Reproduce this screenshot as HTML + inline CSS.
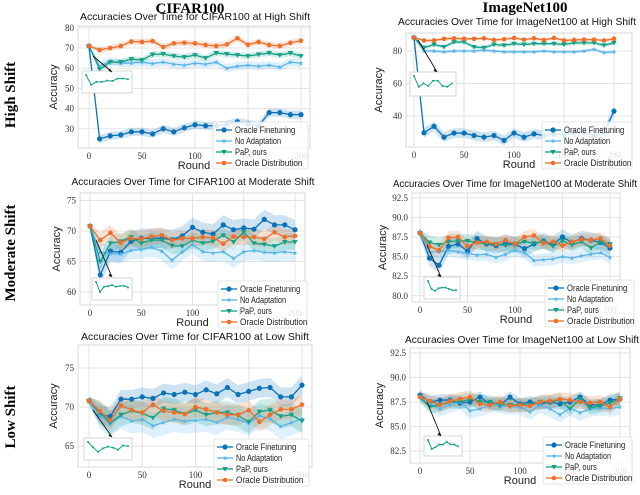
<!DOCTYPE html>
<html><head><meta charset="utf-8"><style>
body{margin:0;background:#fff}
svg text{font-family:"Liberation Sans",sans-serif}
.serif{font-family:"Liberation Serif",serif}
</style></head><body>
<svg id="fig" width="640" height="490" viewBox="0 0 640 490" xmlns="http://www.w3.org/2000/svg">
<text class="serif" x="190" y="13" font-size="15" font-weight="bold" text-anchor="middle">CIFAR100</text>
<text class="serif" x="525" y="12" font-size="15" font-weight="bold" text-anchor="middle">ImageNet100</text>
<text class="serif" transform="translate(15,95) rotate(-90)" font-size="15" font-weight="bold" text-anchor="middle">High Shift</text>
<text class="serif" transform="translate(15,253) rotate(-90)" font-size="15" font-weight="bold" text-anchor="middle">Moderate Shift</text>
<text class="serif" transform="translate(15,417) rotate(-90)" font-size="15" font-weight="bold" text-anchor="middle">Low Shift</text>
</svg>
<script>
const rounds=[0,10,20,30,40,50,60,70,80,90,100,110,120,130,140,150,160,170,180,190,200];
const seriesNames=["Oracle Finetuning","No Adaptation","PaP, ours","Oracle Distribution"];
const xTicks=[0,50,100,150,200];
// CIFAR100 high
const c1Oracle=[71,25,26.5,27,28.5,28.5,27.5,30,28.5,30.5,32,31.5,31.5,32,33.5,32.5,31.5,38,38,37,37];
const c1NoAdapt=[71,61,63.5,62.5,62.5,63,62.3,63,62,61.5,62.5,62,63,60,61,61.5,61,61.5,60.5,63,62.5];
const c1PaP=[71,59.5,63,63,64.5,64,66.8,67,66,65.5,66.5,65,67.5,67,66.5,66,66.8,67.5,66.5,67.5,66];
const c1Dist=[71,69,70,71,73.2,73,73.4,70.5,72.3,72.6,72.3,71.5,71,71.8,74.8,71.6,73,71.5,71,72.6,73.6];
const c1Spread=[2,2,1.5,1.5];
const c1YTicks=[30,40,50,60,70,80];
// ImageNet100 high
const i1Oracle=[88.2,29.7,33.6,27,29.5,29.5,28,27,28,25,29.5,27,29,28,29,28.5,30,30,28,30,43];
const i1NoAdapt=[88.2,80,80,79.5,80,80,80,80.5,80,79.5,79.5,79.5,79.5,80,79.5,79.5,79.5,80,81,79,79.5];
const i1PaP=[88.2,82,84,82.5,85.5,85.5,82.5,82,84,83.5,84.5,84,84.5,84.5,84.5,84,85,85,85,83.5,85];
const i1Dist=[88.2,86.5,86.5,87.5,87.8,87.5,87.5,87.8,86.8,87.2,88,87,87.8,86.8,88,86.5,86.8,87,87,86.5,87.5];
const i1Spread=[3,1,1.2,1];
const i1YTicks=[40,60,80];
// CIFAR100 moderate
const c2Oracle=[70.8,62.8,66.7,66.5,68.3,68.8,68.8,68.8,68.6,69.2,70.6,69.8,69.5,71,70.2,70.5,70.3,71.9,71,71,70.2];
const c2NoAdapt=[70.8,66.5,66.3,66.2,66.8,67,67.3,66.7,65.2,66.6,67.8,66.6,66.4,66.6,65.5,66.6,66.8,66.5,66.4,66.6,66.4];
const c2PaP=[70.8,65,68,68.3,69,68,68.5,68.5,67.6,67.5,68.5,68,68.3,69.3,68.2,69.8,68,67.8,67.5,68.2,68.2];
const c2Dist=[70.8,68.5,69.7,68.1,68.8,68.7,69.1,69.3,68.5,68.8,68.8,69,68.9,67.9,69.1,69,69,68.7,69.8,69,69.2];
const c2Spread=[1.6,1.5,1.3,1.3];
const c2YTicks=[60,65,70,75];
// ImageNet100 moderate
const i2Oracle=[88,84.8,83.9,86.3,86.6,85.7,87.3,86.6,86.4,86.7,86.6,86,86.6,87,86.6,87.5,86.8,87.3,87.1,86.8,86.1];
const i2NoAdapt=[88,85.6,85.6,85.8,85.6,85.4,85.2,85.3,84.9,85.3,85.8,85.5,84.5,84.6,84.7,85,84.8,85.1,85.3,85.5,84.9];
const i2PaP=[88,86.8,86.5,86.9,87,87,86.8,86.6,86.6,86.4,86.6,86.9,86.7,86.9,86.3,87,86.5,86.9,86.1,86.8,86.6];
const i2Dist=[88,86.3,85.8,87.4,87.5,86.3,86.8,86.9,86.6,87.1,86.6,87.5,87.7,86.7,86.9,86.4,86.9,87.2,87.1,87.3,86.4];
const i2Spread=[1,0.8,0.9,0.8];
const i2YTicks=[80,82.5,85,87.5,90,92.5];
// CIFAR100 low
const c3Oracle=[70.8,69,68.8,71,71,71.3,71.1,71.8,71.6,71.9,71.6,72.2,71.7,72.5,71.6,72,72.4,72.5,71.3,71.3,72.8];
const c3NoAdapt=[70.8,68.9,67.8,68.8,68.2,68.4,67.6,68,68.4,68.2,68.3,68.4,68,68.7,68.4,67.9,68.9,68.5,67.5,68,68.5];
const c3PaP=[70.8,69.3,68,69,69.5,69.2,68.6,69.8,69.6,69.1,69.6,69,69.3,69.3,68.9,68.1,69.4,69.6,68.8,69,68.2];
const c3Dist=[70.8,69.5,68.3,70.2,69.6,69.3,70.3,69.5,69.3,69.1,70,69.7,69.3,69,69,69.6,68.1,69,69.7,69.7,70.3];
const c3Spread=[1.2,1.6,1.5,1.3];
const c3YTicks=[65,70,75];
// ImageNet100 low
const i3Oracle=[88.2,87.5,87.7,87.7,87.4,87.5,88,87.3,87.2,88,87.3,87.5,87.3,87.5,87.3,87.5,88,87.2,87.2,87.7,87.8];
const i3NoAdapt=[88,87.3,86.8,87.2,87.5,86.6,86.8,87.2,87.2,87,87,86.5,87.2,86.8,86.2,86.9,86.4,86.8,86.9,86.8,87];
const i3PaP=[88,87,87.2,87.5,87.5,87.8,87.5,87.5,87.3,87.2,87.2,87.2,87.5,87.5,87.7,86.8,87.8,86.9,87.1,87.4,87.9];
const i3Dist=[88,87.6,87.2,87.6,87.8,88,87.3,87.2,87.5,87.1,87.2,87.1,87.5,87.6,87.8,87.7,87.5,87.4,87.5,87,87.8];
const i3Spread=[0.6,0.8,0.7,0.7];
const i3YTicks=[82.5,85,87.5,90,92.5];

const colors=["#0a72b8","#56b4e9","#14a085","#ef6f2a"];
const NS="http://www.w3.org/2000/svg";
const svg=document.getElementById('fig');
function mk(tag,attrs,parent){const e=document.createElementNS(NS,tag);for(const k in attrs)e.setAttribute(k,attrs[k]);(parent||svg).appendChild(e);return e;}

const panels=[
 {id:"cifar-high",title:"Accuracies Over Time for CIFAR100 at High Shift",tw:230,tc:195,f:[78,26,310,148],x0:89,x200:301,yv:70,yp:48,k:2.02,ticks:c1YTicks,dec:0,data:[c1Oracle,c1NoAdapt,c1PaP,c1Dist],sp:c1Spread,ty:20,ax:57,leg:[213,122,95],inset:[82,71,50,22],arrow:[93,56,112,72]},
 {id:"imagenet-high",title:"Accuracies Over Time for ImageNet100 at High Shift",tw:238,tc:517,f:[406,33,632,147],x0:414,x200:614,yv:80,yp:51,k:1.625,ticks:i1YTicks,dec:0,data:[i1Oracle,i1NoAdapt,i1PaP,i1Dist],sp:i1Spread,ty:25,ax:382,leg:[542,122,90],inset:[410,72,46,24],arrow:[418,40,437,72]},
 {id:"cifar-moderate",title:"Accuracies Over Time for CIFAR100 at Moderate Shift",tw:243,tc:193,f:[80,193,305,305],x0:90,x200:295,yv:70,yp:231,k:6.1,ticks:c2YTicks,dec:0,data:[c2Oracle,c2NoAdapt,c2PaP,c2Dist],sp:c2Spread,ty:185,ax:60,leg:[218,281,89],inset:[92,278,40,22],arrow:[96,240,112,277]},
 {id:"imagenet-moderate",title:"Accuracies Over Time for ImageNet100 at Moderate Shift",tw:244,tc:515,f:[412,193,620,302],x0:420,x200:610,yv:87.5,yp:237,k:7.84,ticks:i2YTicks,dec:1,data:[i2Oracle,i2NoAdapt,i2PaP,i2Dist],sp:i2Spread,ty:187,ax:386,leg:[545,280,89],inset:[424,277,36,22],arrow:[427,245,441,277]},
 {id:"cifar-low",title:"Accuracies Over Time for CIFAR100 at Low Shift",tw:228,tc:195,f:[78,345,312,467],x0:89,x200:302,yv:70,yp:407,k:7.8,ticks:c3YTicks,dec:0,data:[c3Oracle,c3NoAdapt,c3PaP,c3Dist],sp:c3Spread,ty:340,ax:57,leg:[214,439,95],inset:[84,438,48,22],arrow:[93,410,112,437]},
 {id:"imagenet-low",title:"Accuracies Over Time for ImageNet100 at Low Shift",tw:234,tc:522,f:[410,348,630,463],x0:420,x200:620,yv:87.5,yp:402,k:9.8,ticks:i3YTicks,dec:1,data:[i3Oracle,i3NoAdapt,i3PaP,i3Dist],sp:i3Spread,ty:343,ax:383,leg:[543,437,89],inset:[424,436,38,20],arrow:[427,402,441,436]}
];

function marker(g,s,x,y,c){
 let e;
 if(s===0){e=mk('circle',{cx:x,cy:y,r:2.6,fill:c},g);}
 else if(s===1){e=mk('path',{d:`M${x},${y-2.4} L${x+0.7},${y-0.7} L${x+2.4},${y-0.7} L${x+1},${y+0.5} L${x+1.5},${y+2.3} L${x},${y+1.2} L${x-1.5},${y+2.3} L${x-1},${y+0.5} L${x-2.4},${y-0.7} L${x-0.7},${y-0.7}Z`,fill:c},g);}
 else if(s===2){e=mk('path',{d:`M${x-2.8},${y-2} L${x+2.8},${y-2} L${x},${y+2.6}Z`,fill:c},g);}
 else {e=mk('circle',{cx:x,cy:y,r:2.3,fill:c},g);}
 
 
}

panels.forEach(p=>{
 const [L,T,R,B]=p.f;
 const X=v=>p.x0+(v/200)*(p.x200-p.x0);
 const Y=v=>p.yp-(v-p.yv)*p.k;
 const g=mk('g',{});
 
 
 const clipId='clip-'+p.id;
 const cp=mk('clipPath',{id:clipId},g);mk('rect',{x:L,y:T,width:R-L,height:B-T},cp);
 const t=mk('text',{x:p.tc,y:p.ty,'font-size':'10.5','text-anchor':'middle',fill:'#111',textLength:p.tw,lengthAdjust:'spacingAndGlyphs'},g);t.textContent=p.title;
 
 
 xTicks.forEach(v=>{
  const l=mk('line',{x1:X(v),x2:X(v),y1:T,y2:B,stroke:'#e3e3e3','stroke-width':1},g);
  
  
  const tx=mk('text',{x:X(v),y:B+11,'font-size':'9','text-anchor':'middle',class:'serif',fill:'#333'},g);tx.textContent=v;
  
  
 });
 p.ticks.forEach(v=>{
  const l=mk('line',{x1:L,x2:R,y1:Y(v),y2:Y(v),stroke:'#e3e3e3','stroke-width':1},g);
  
  
  const ty=mk('text',{x:L-4,y:Y(v)+3,'font-size':'9','text-anchor':'end',class:'serif',fill:'#333'},g);ty.textContent=v.toFixed(p.dec);
  
  
 });
 const fr=mk('rect',{x:L,y:T,width:R-L,height:B-T,fill:'none',stroke:'#d8d8d8','stroke-width':1},g);
 
 
 const ya=mk('text',{transform:`translate(${p.ax},${(T+B)/2}) rotate(-90)`,'font-size':'11','text-anchor':'middle',fill:'#222'},g);ya.textContent='Accuracy';
 
 
 const xa=mk('text',{x:(L+R)/2,y:B+21,'font-size':'11','text-anchor':'middle',fill:'#222'},g);xa.textContent='Round';
 
 
 const pg=mk('g',{'clip-path':`url(#${clipId})`},g);
 p.data.forEach((d,s)=>{
  const up=d.map((v,i)=>`${X(rounds[i])},${Y(v+(i?p.sp[s]:0.5))}`);
  const dn=d.map((v,i)=>`${X(rounds[i])},${Y(v-(i?p.sp[s]:0.5))}`).reverse();
  const band=mk('polygon',{points:up.concat(dn).join(' '),fill:colors[s],opacity:0.2},pg);
  
  
 });
 p.data.forEach((d,s)=>{
  const line=mk('polyline',{points:d.map((v,i)=>`${X(rounds[i])},${Y(v)}`).join(' '),fill:'none',stroke:colors[s],'stroke-width':1.3},pg);
  
  
  d.forEach((v,i)=>marker(pg,s,X(rounds[i]),Y(v),colors[s]));
 });
 const [ix,iy,iw,ih]=p.inset;
 const ig=mk('g',{},g);
 
 
 mk('rect',{x:ix,y:iy,width:iw,height:ih,fill:'#fff',stroke:'#ccc','stroke-width':0.8},ig);
 const pd=p.data[2].slice(0,9);
 const mn=Math.min(...pd),mx=Math.max(...pd);
 const ipts=pd.map((v,i)=>`${ix+4+i*(iw-8)/8},${iy+4+(mx-v)/(mx-mn||1)*(ih*0.45)}`);
 mk('polyline',{points:ipts.join(' '),fill:'none',stroke:colors[2],'stroke-width':1},ig);
 ipts.forEach(q=>{const [a,b]=q.split(',');mk('circle',{cx:a,cy:b,r:1,fill:colors[2]},ig);});
 const [a1,b1,a2,b2]=p.arrow;
 const ar=mk('line',{x1:a1,y1:b1,x2:a2,y2:b2,stroke:'#111','stroke-width':0.9},g);
 
 
 mk('path',{d:`M${a2},${b2} l-3.5,-1 l1.5,-2.5Z`,fill:'#111'},g);
 const [lx,ly,lw]=p.leg;
 const lg=mk('g',{},g);
 
 
 mk('rect',{x:lx,y:ly,width:lw,height:47,fill:'#fff','fill-opacity':0.85,stroke:'#ddd','stroke-width':0.8,rx:2},lg);
 seriesNames.forEach((n,s)=>{
  const yy=ly+8+s*11;
  const en=mk('g',{},lg);
  
  
  mk('line',{x1:lx+3,x2:lx+19,y1:yy,y2:yy,stroke:colors[s],'stroke-width':1.3},en);
  marker(en,s,lx+11,yy,colors[s]);
  const tt=mk('text',{x:lx+22,y:yy+3.2,'font-size':'9',fill:'#222',textLength:(n.length*3.55).toFixed(1),lengthAdjust:'spacingAndGlyphs'},en);tt.textContent=n;
 });
});
</script>
</body></html>
